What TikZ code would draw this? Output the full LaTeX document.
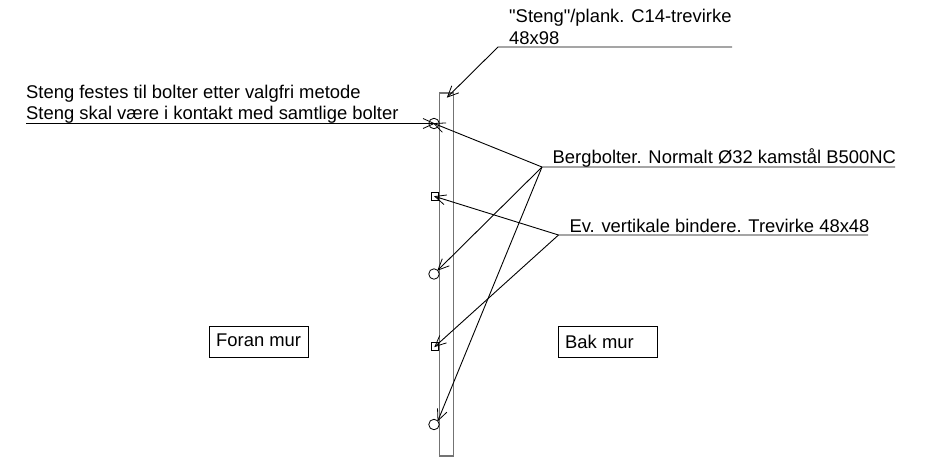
\documentclass[tikz,border=0pt]{standalone}
\usepackage{fontspec}
\newfontfamily\lblfont{Liberation Sans}
\usetikzlibrary{arrows.meta}
\tikzset{
  x=1pt,y=-1pt,
  leader/.style={line width=0.9pt,black},
  lead/.style={leader,-{Straight Barb[length=11pt,width=10pt,line width=0.8pt]},shorten >=-1pt},
  lbl/.style={inner sep=0pt,anchor=base west,font=\lblfont\fontsize{18.4}{20}\selectfont},
  bolt/.style={circle,draw,line width=0.8pt,minimum size=10.5pt,inner sep=0pt},
  binder/.style={rectangle,draw,line width=0.8pt,minimum size=7.5pt,inner sep=0pt},
  boxed/.style={rectangle,draw,line width=0.8pt,minimum width=99pt,minimum height=31pt,inner sep=0pt},
  wall/.style={draw=black!55,line width=1.1pt}
}
\begin{document}
\begin{tikzpicture}
\useasboundingbox (0,0) rectangle (935,459);
% plank
\draw[wall] (439.5,456) -- (439.5,93) -- (453.5,93) -- (453.5,456) -- cycle;
% bolts and binders
\node[bolt] (b1) at (434,123.5) {};
\node[bolt] (b2) at (434,274) {};
\node[bolt] (b3) at (434,424.5) {};
\node[binder] (v1) at (435,196.5) {};
\node[binder] (v2) at (435,346.5) {};
% texts
\node[lbl] (t1) at (509,22.5) {"Steng"/plank. C14-trevirke};
\node[lbl] (t2) at (509,44.5) {48x98};
\node[lbl] (t3) at (26,98) {Steng festes til bolter etter valgfri metode};
\node[lbl] (t4) at (26,119.5) {Steng skal være i kontakt med samtlige bolter};
\node[lbl] (t5) at (552.5,163.3) {Bergbolter. Normalt Ø32 kamstål B500NC};
\node[lbl] (t6) at (569.3,232.3) {Ev. vertikale bindere. Trevirke 48x48};
\node[boxed] (foran) at (258.5,342) {};
\node[lbl] at (216,346.5) {Foran mur};
\node[boxed] (bak) at (607.5,342) {};
\node[lbl] at (565,348.5) {Bak mur};
% leader knees
\coordinate (k1e) at (732,47);
\coordinate (k1) at (498,47);
\coordinate (p) at (447.5,97);
\coordinate (k2) at (26,123.5);
\coordinate (k3e) at (895,167);
\coordinate (k3) at (542,167);
\coordinate (k4e) at (868,235);
\coordinate (k4) at (558.5,235);
% connectors
\draw[lead] (k1e) -- (k1) -- (p);
\draw[lead] (k2) -- (b1.center);
\draw[lead] (k3e) -- (k3) -- (b1.center);
\draw[lead] (k3) -- (b2.north east);
\draw[lead] (k3) -- (b3.north east);
\draw[lead] (k4e) -- (k4) -- (v1.center);
\draw[lead] (k4) -- (v2.center);
\end{tikzpicture}
\end{document}
